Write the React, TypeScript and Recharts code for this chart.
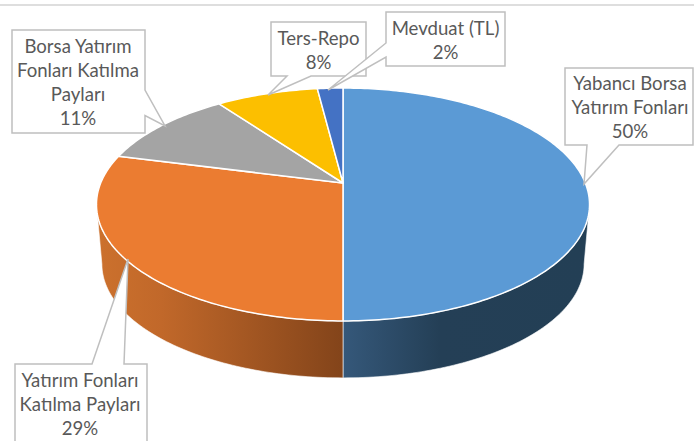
import { Pie, PieChart } from 'recharts';

const categoryLines = [
  ['Yabancı Borsa', 'Yatırım Fonları'],
  ['Yatırım Fonları', 'Katılma Payları'],
  ['Borsa Yatırım', 'Fonları Katılma', 'Payları'],
  ['Ters-Repo'],
  ['Mevduat (TL)'],
];
const shares = [50, 29, 11, 8, 2];
const fills = ['#5b9ad5', '#eb7c31', '#a4a4a4', '#fcbf00', '#4472c4'];

// callout frames: box, then the pointer (base, tip, base), then the text centre and first baseline
const callouts = [
  { box: [565, 68, 693, 145], side: 'bottom', ptr: [[587, 145], [584, 184], [619, 145]], tx: 630, ty: 90 },
  { box: [15, 364, 147, 450], side: 'top', ptr: [[92, 364], [128, 259], [124, 364]], tx: 80, ty: 387 },
  { box: [12, 30, 145, 133], side: 'right', ptr: [[145, 90], [165, 126], [145, 115.5]], tx: 78, ty: 53 },
  { box: [271, 22, 366, 76], side: 'bottom', ptr: [[287, 76], [268, 95], [311, 76]], tx: 318.5, ty: 44.5 },
  { box: [386, 12, 505, 66], side: 'left', ptr: [[386, 43], [328, 90], [386, 57]], tx: 445.5, ty: 34.5 },
];

// wall gradients, one per slice that shows a side (offset along x from the pie centre, as share of the radius)
const wallStops: Record<number, [number, string][]> = {
  0: [[0, '#35587a'], [0.4, '#243f56'], [1, '#233f55']],
  1: [[-1.02, '#cc712d'], [-0.75, '#c1682a'], [0, '#83441a']],
};

const data = shares.map((value, i) => ({ name: categoryLines[i].join(' '), value, fill: fills[i] }));

const TILT = 0.4643; // minor/major axis ratio of the disc
const PERSP = 0.1845; // far rim shrinks, near rim grows
const DROP = 59.5; // disc thickness
const BASE_SCALE = 0.978;
const LINE = 24;

const rad = (a: number) => (a * Math.PI) / 180;

function project(a: number, r: number) {
  const u = Math.cos(rad(a));
  const v = Math.sin(rad(a));
  const w = 1 + PERSP * v;
  return { x: (r * u) / w, y: (-r * TILT * v) / w };
}

function sweep(from: number, to: number) {
  const out: number[] = [];
  const n = Math.max(2, Math.ceil(Math.abs(from - to)));
  for (let i = 0; i <= n; i++) out.push(from + ((to - from) * i) / n);
  return out;
}

const SliceShape = (props: any) => {
  const { cx, cy, outerRadius: r, startAngle, endAngle, fill, index } = props;
  const top = sweep(startAngle, endAngle).map((a) => project(a, r));
  const d = `M${cx},${cy} ` + top.map((p) => `L${cx + p.x},${cy + p.y}`).join(' ') + ' Z';

  // only the near side of the rim is visible
  const lim = (Math.asin(PERSP) * 180) / Math.PI;
  const s = Math.min(startAngle, -lim);
  const e = Math.max(endAngle, -180 + lim);
  let wall = null;
  if (wallStops[index] && s > e) {
    const ringCentre = r * TILT * PERSP / (1 - PERSP * PERSP);
    const rim = sweep(s, e).map((a) => project(a, r));
    const upper = rim.map((p) => [cx + p.x, cy + p.y]);
    const lower = rim
      .map((p) => [cx + p.x * BASE_SCALE, cy + ringCentre + DROP + (p.y - ringCentre) * BASE_SCALE])
      .reverse();
    const wd = 'M' + [...upper, ...lower].map((p) => p.join(',')).join(' L') + ' Z';
    const id = `wall-${index}`;
    wall = (
      <>
        <defs>
          <linearGradient id={id} gradientUnits="userSpaceOnUse" x1={cx - 1.02 * r} x2={cx + 1.02 * r} y1={0} y2={0}>
            {wallStops[index].map(([o, c]) => (
              <stop key={o} offset={(o + 1.02) / 2.04} stopColor={c} />
            ))}
          </linearGradient>
        </defs>
        <path d={wd} fill={`url(#${id})`} stroke="#fff" strokeWidth={0.6} />
      </>
    );
  }
  return (
    <g>
      {wall}
      <path d={d} fill={fill} stroke="#fff" strokeWidth={1.5} strokeLinejoin="round" />
    </g>
  );
};

const Callout = (props: any) => {
  const { index, value } = props;
  const c = callouts[index];
  const [x0, y0, x1, y1] = c.box;
  const p = c.ptr;
  const sides: Record<string, number[][]> = {
    top: [[x0, y0], ...p, [x1, y0], [x1, y1], [x0, y1]],
    right: [[x0, y0], [x1, y0], ...p, [x1, y1], [x0, y1]],
    bottom: [[x0, y0], [x1, y0], [x1, y1], ...p.slice().reverse(), [x0, y1]],
    left: [[x0, y0], [x1, y0], [x1, y1], [x0, y1], ...p.slice().reverse()],
  };
  const pts = sides[c.side].map((q) => q.join(',')).join(' ');
  const lines = [...categoryLines[index], `${value}%`];
  return (
    <g>
      <polygon points={pts} fill="#fff" stroke="#bfbfbf" strokeWidth={1.5} />
      <text textAnchor="middle" fill="#595959" fontFamily="Lato" fontSize={18.6}>
        {lines.map((t, i) => (
          <tspan key={i} x={c.tx} y={c.ty + i * LINE}>
            {t}
          </tspan>
        ))}
      </text>
    </g>
  );
};

export default function App() {
  return (
    <div style={{ position: 'absolute', left: 0, top: 0, width: 694, height: 441, overflow: 'hidden', background: '#fff' }}>
      <div style={{ position: 'absolute', left: 0, top: 4, width: 694, height: 1.5, background: '#dedede' }} />
      <PieChart width={694} height={441} margin={{ top: 0, right: 0, bottom: 0, left: 0 }}>
        <Pie
          data={data}
          dataKey="value"
          nameKey="name"
          cx={343}
          cy={183}
          outerRadius={242.3}
          startAngle={90}
          endAngle={-270}
          shape={SliceShape}
          label={Callout}
          labelLine={false}
          isAnimationActive={false}
        />
      </PieChart>
    </div>
  );
}
